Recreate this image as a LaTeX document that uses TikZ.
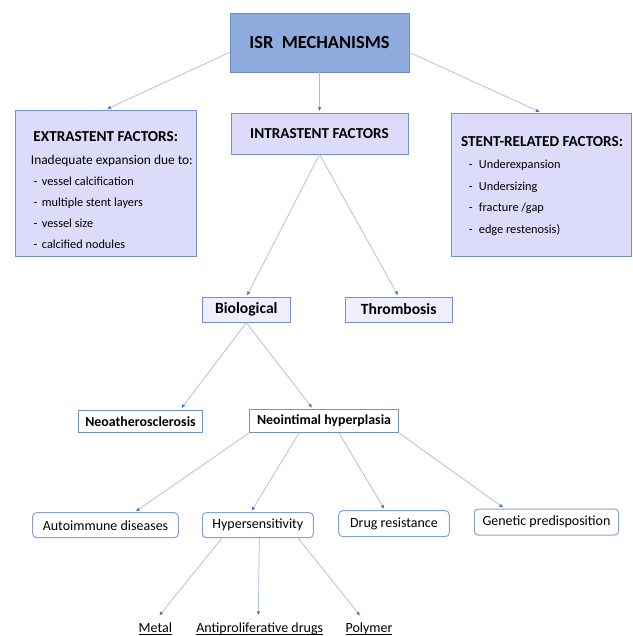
\documentclass[tikz,border=0pt]{standalone}
\usepackage{fontspec}
\setmainfont{Carlito}
\usetikzlibrary{arrows.meta,calc}
\definecolor{isrfill}{HTML}{8FAADC}
\definecolor{edgeblue}{HTML}{6F8FD6}
\definecolor{lav}{HTML}{DCDCFA}
\definecolor{lavlight}{HTML}{EEEEFC}
\definecolor{linecol}{HTML}{A6BAE2}
\definecolor{tipcol}{HTML}{4472C4}
\newcommand{\fIsr}{\fontsize{18.4pt}{20pt}\selectfont\bfseries}
\newcommand{\fHead}{\fontsize{15.2pt}{17pt}\selectfont\bfseries}
\newcommand{\fBody}{\fontsize{12.3pt}{14pt}\selectfont}
\newcommand{\fBodyWide}{\fontsize{13.4pt}{15pt}\selectfont}
\newcommand{\fMid}{\fontsize{15.6pt}{17pt}\selectfont\bfseries}
\newcommand{\fSmallB}{\fontsize{13.9pt}{16pt}\selectfont\bfseries}
\newcommand{\fLow}{\fontsize{14pt}{16pt}\selectfont}
\newcommand{\uline}[1]{\setbox0\hbox{#1}\rlap{\rule[-2.4pt]{\wd0}{0.7pt}}\box0}
\tikzset{
  conn/.style={draw=linecol, line width=0.7pt, shorten >=1.5pt,
    -{Latex[length=4pt,width=3.5pt,color=tipcol]}},
  sqbox/.style={draw=edgeblue, line width=0.8pt, inner sep=0pt, anchor=center},
  isrbox/.style={sqbox, fill=isrfill, draw=tipcol!80, font=\fIsr},
  lavbox/.style={sqbox, fill=lav},
  midbox/.style={sqbox, fill=lavlight, font=\fMid},
  whitebox/.style={sqbox, fill=white, font=\fSmallB},
  roundbox/.style={sqbox, fill=white, draw=edgeblue!85, line width=1pt,
    rounded corners=4pt, font=\fLow},
  txt/.style={inner sep=0pt, anchor=base west, font=\fBody},
  headtxt/.style={inner sep=0pt, anchor=base, font=\fHead},
  leaf/.style={anchor=base, inner xsep=0pt, inner ysep=5pt, text height=10pt,
    text depth=3pt, font=\fLow}
}
\begin{document}
\begin{tikzpicture}[x=1pt,y=-1pt]
\useasboundingbox (0,0) rectangle (632,636);
\fill[white] (0,0) rectangle (632,636);

% top level
\node[isrbox, minimum width=179pt, minimum height=59pt] (isr) at (319.5,42.5) {ISR\ \ MECHANISMS};
\node[lavbox, minimum width=177pt, minimum height=41pt, font=\fHead] (intra) at (319.5,133.5) {INTRASTENT FACTORS};
\node[lavbox, minimum width=180.5pt, minimum height=146pt] (extra) at (105.75,183) {};
\node[lavbox, minimum width=179.5pt, minimum height=143pt] (stent) at (541.2,184.5) {};

% extrastent text
\node[headtxt] (extitle) at (105.7,141.7) {EXTRASTENT FACTORS:};
\node[txt, font=\fBodyWide] (ex0) at (30.7,164.9) {Inadequate expansion due to:};
\foreach \t [count=\i] in {vessel calcification, multiple stent layers, vessel size, calcified nodules}
  \node[txt] (ex\i) at (33.3,{164.7+21*\i}) {\makebox[8.4pt][l]{-}\t};

% stent-related text
\node[headtxt] (sttitle) at (542,146.7) {STENT-RELATED FACTORS:};
\foreach \t [count=\i] in {Underexpansion, Undersizing, fracture /gap, edge restenosis)}
  \node[txt] (st\i) at (468.7,{168.7+21.5*(\i-1)}) {\makebox[10pt][l]{-}\t};

% middle level
\node[midbox, minimum width=88.7pt, minimum height=25pt] (bio) at (246.3,309.8) {Biological};
\node[midbox, minimum width=106.7pt, minimum height=25pt] (thromb) at (398.7,309.5) {Thrombosis};
\node[whitebox, minimum width=124.4pt, minimum height=22.7pt] (neoath) at (140.5,421.3) {Neoatherosclerosis};
\node[whitebox, minimum width=149.4pt, minimum height=23.4pt] (neoint) at (324,421) {Neointimal hyperplasia};

% lower level
\node[roundbox, minimum width=145.6pt, minimum height=25pt] (auto) at (105.5,525.2) {Autoimmune diseases};
\node[roundbox, minimum width=111pt, minimum height=25pt] (hyper) at (257.8,525.2) {Hypersensitivity};
\node[roundbox, minimum width=110.6pt, minimum height=26pt] (drug) at (394,523.7) {Drug resistance};
\node[roundbox, minimum width=144.4pt, minimum height=26pt] (genetic) at (546.5,522) {Genetic predisposition};

% leaves
\node[leaf] (metal) at (155.3,632) {\uline{Metal}};
\node[leaf] (anti) at (259.7,632) {\uline{Antiproliferative drugs}};
\node[leaf] (polymer) at (369,632) {\uline{Polymer}};

% connectors
\draw[conn] ([yshift=20pt]isr.south west) -- (extra.north);
\draw[conn] ([yshift=20pt]isr.south east) -- (stent.north);
\draw[conn] (isr.south) -- (intra.north);
\draw[conn] (intra.south) -- (bio.north);
\draw[conn] (intra.south) -- (thromb.north);
\draw[conn] (bio.south) -- ([xshift=40pt]neoath.north);
\draw[conn] (bio.south) -- ([xshift=-11pt]neoint.north);
\draw[conn] (neoint.south west) -- ([xshift=29pt]auto.north);
\draw[conn] ([xshift=-25pt]neoint.south) -- ([xshift=-7pt]hyper.north);
\draw[conn] ([xshift=15pt]neoint.south) -- ([xshift=-9pt]drug.north);
\draw[conn] (neoint.south east) -- ([xshift=-42pt]genetic.north);
\draw[conn] ([xshift=-36pt]hyper.south) -- ([xshift=3pt]metal.north);
\draw[conn] ([xshift=1.5pt]hyper.south) -- ([xshift=-1.4pt]anti.north);
\draw[conn] ([xshift=40.5pt]hyper.south) -- ([xshift=-8pt]polymer.north);
\end{tikzpicture}
\end{document}
